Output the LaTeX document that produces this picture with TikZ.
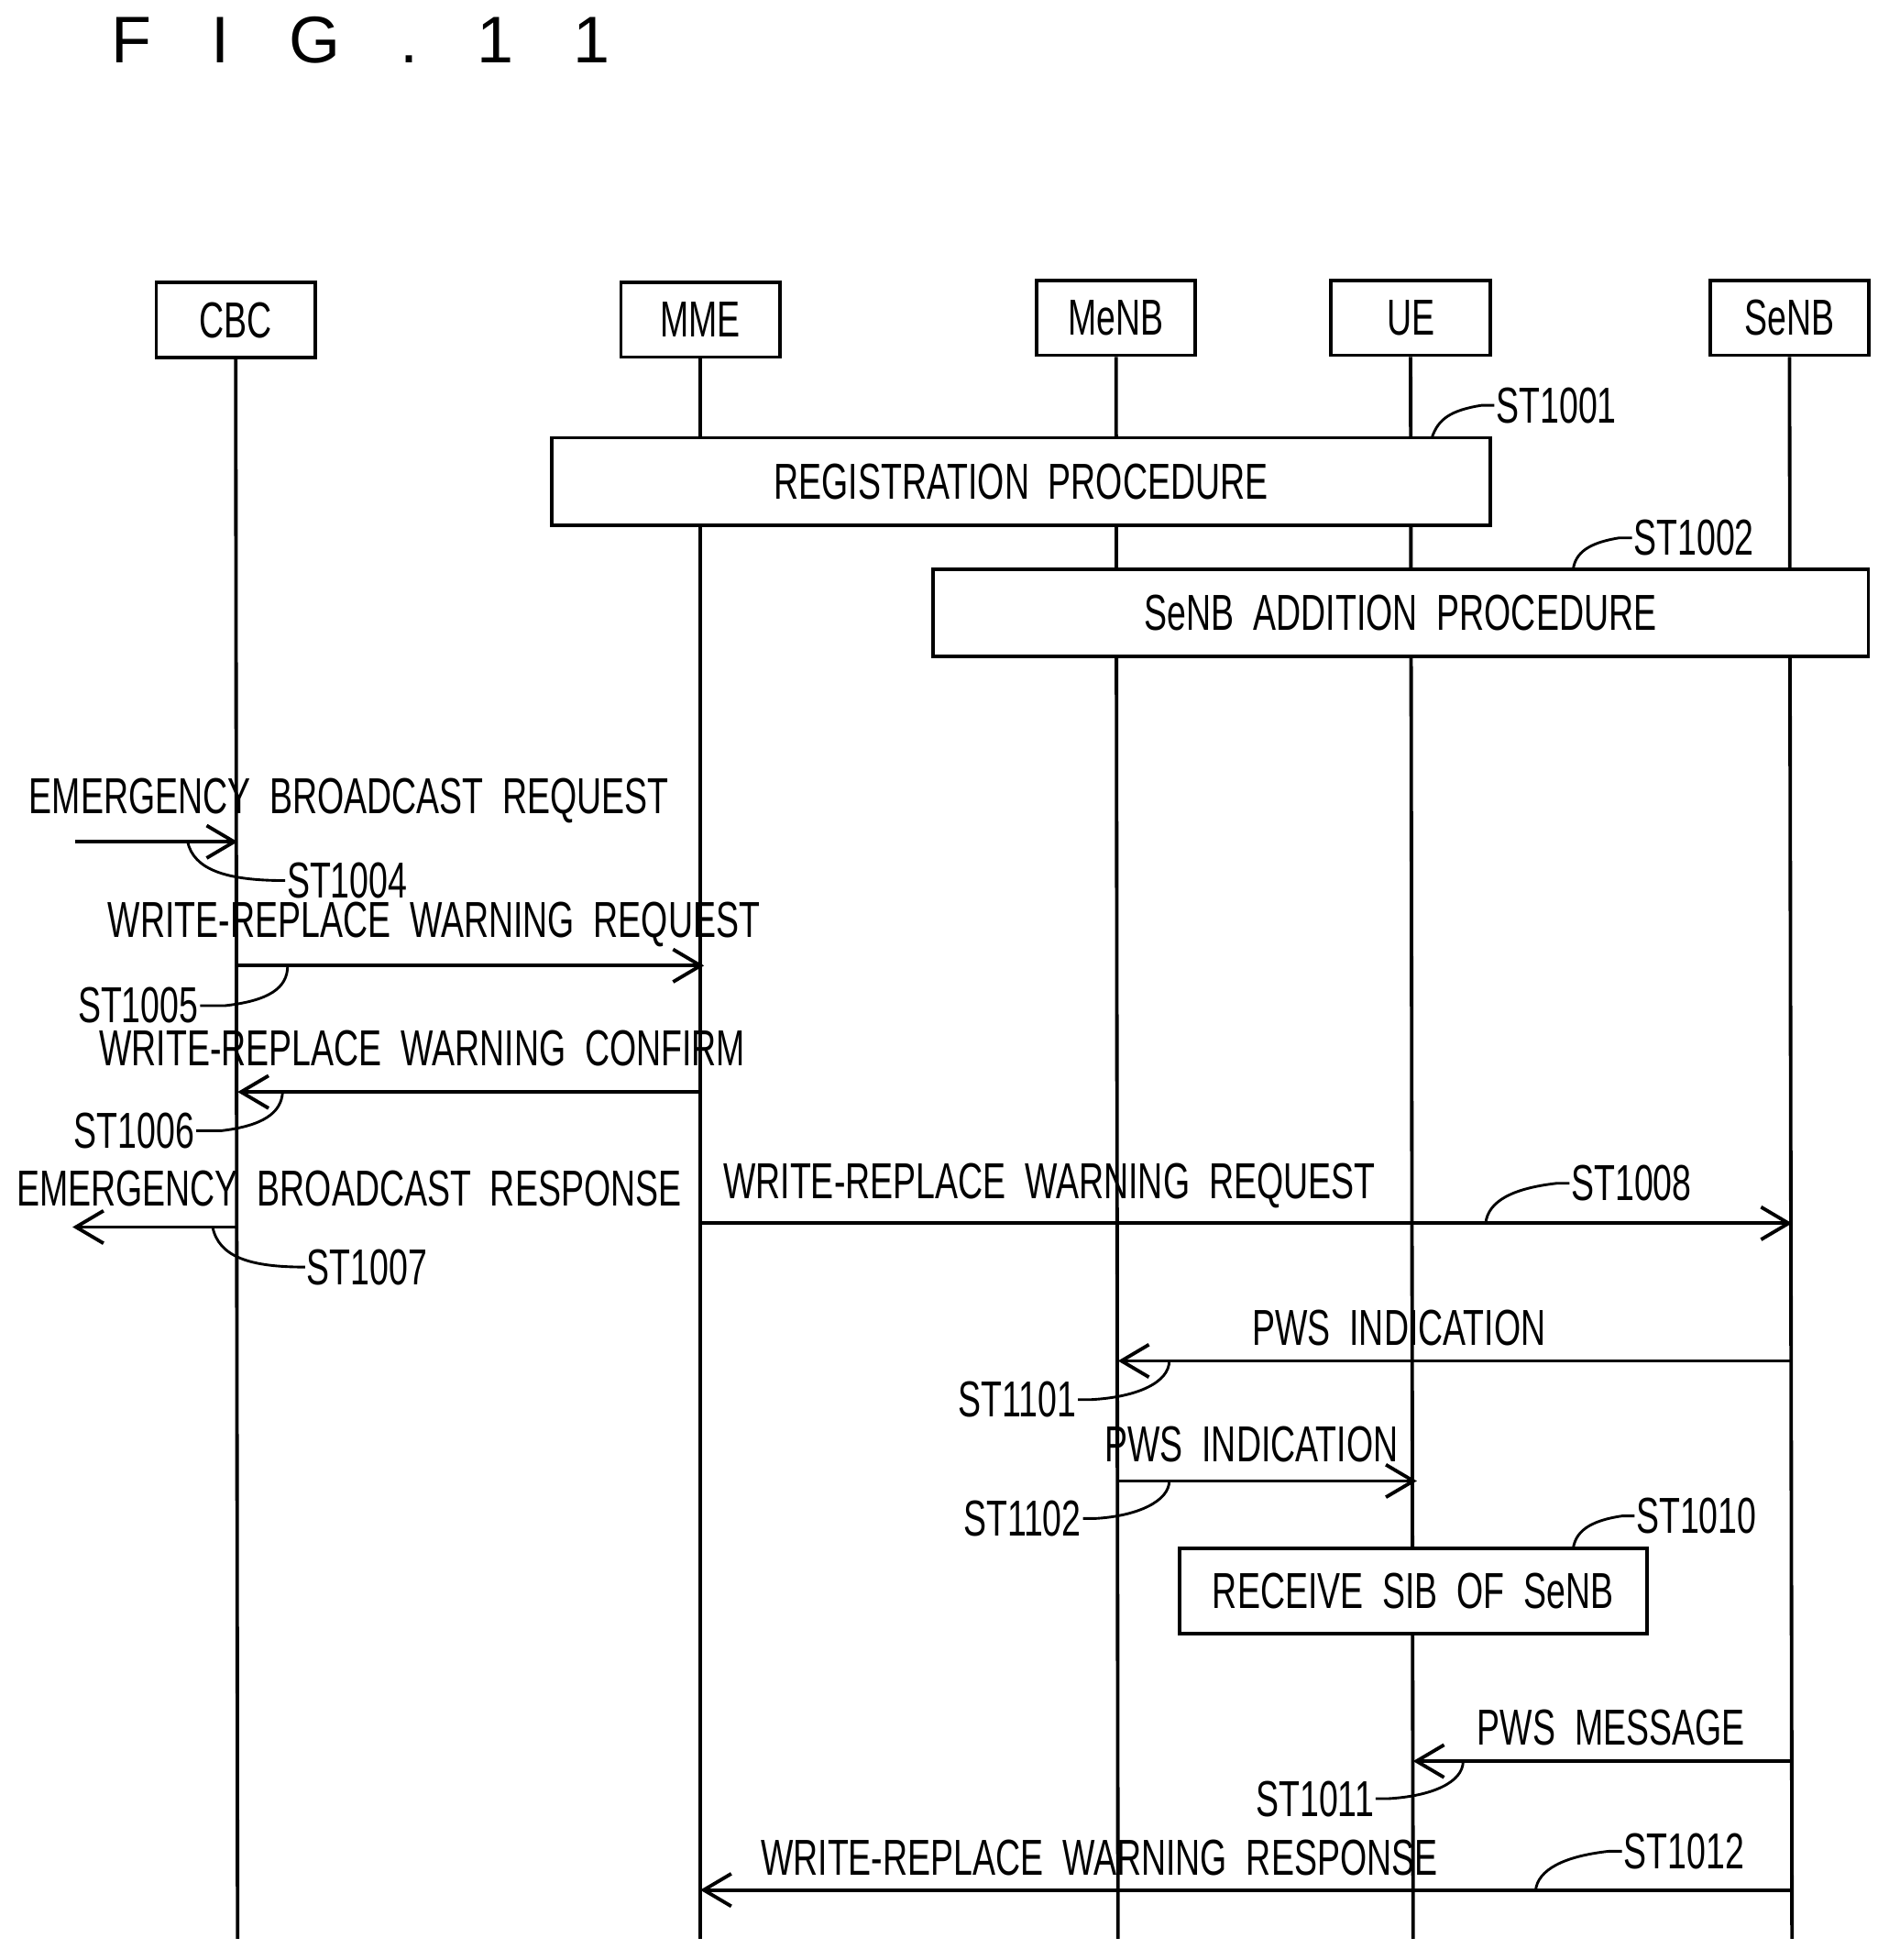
\documentclass[tikz,border=0pt]{standalone}
\usepackage{fontspec}
\setmainfont{Liberation Sans}
\usetikzlibrary{arrows.meta}
\newcommand\T[1]{\scalebox{0.68}[1]{#1}}
\begin{document}
\begin{tikzpicture}[
  line width=0.8pt,
  lbl/.style={inner sep=0pt, font=\fontsize{11.5}{13}\selectfont},
  hdr/.style={draw, minimum width=1.27cm, minimum height=0.6cm, inner sep=0pt, font=\fontsize{11.5}{13}\selectfont},
  msg/.style={-{Straight Barb[length=2.2mm,width=2.6mm]}},
  lead/.style={line width=0.6pt}
]
\useasboundingbox (0,0) rectangle (15.1,-15.67);
\node[lbl,anchor=west,font=\fontsize{15}{17}\selectfont] (title) at (0.88,-0.32) {F\hspace{0.9em}I\hspace{0.9em}G\hspace{0.9em}.\hspace{0.9em}1\hspace{0.9em}1};
% headers
\node[hdr] (cbc) at (1.885,-2.56) {\T{CBC}};
\node[hdr] (mme) at (5.60,-2.555) {\T{MME}};
\node[hdr] (menb) at (8.925,-2.54) {\T{MeNB}};
\node[hdr] (ue) at (11.28,-2.54) {\T{UE}};
\node[hdr] (senb) at (14.31,-2.54) {\T{SeNB}};
\coordinate (cbcE) at (1.90,-15.5);
\coordinate (mmeE) at (5.60,-15.5);
\coordinate (menbE) at (8.94,-15.5);
\coordinate (ueE) at (11.30,-15.5);
\coordinate (senbE) at (14.33,-15.5);
\draw (cbc.south) -- (cbcE);
\draw (mme.south) -- (mmeE);
\draw (menb.south) -- (menbE);
\draw (ue.south) -- (ueE);
\draw (senb.south) -- (senbE);
% boxes
\node[draw,fill=white,minimum width=7.51cm,minimum height=0.70cm,inner sep=0pt,lbl] (reg) at (8.165,-3.85) {\T{REGISTRATION\ \ PROCEDURE}};
\node[draw,fill=white,minimum width=7.48cm,minimum height=0.70cm,inner sep=0pt,lbl] (add) at (11.20,-4.90) {\T{SeNB\ \ ADDITION\ \ PROCEDURE}};
\node[draw,fill=white,minimum width=3.74cm,minimum height=0.68cm,inner sep=0pt,lbl] (sib) at (11.30,-12.72) {\T{RECEIVE\ \ SIB\ \ OF\ \ SeNB}};
\node[lbl,anchor=west] (s1001) at (11.95,-3.24) {\T{ST1001}};
\draw[lead] (s1001.west) -- ++(-0.1,0) .. controls (11.6,-3.28) and (11.5,-3.35) .. (11.45,-3.50);
\node[lbl,anchor=west] (s1002) at (13.05,-4.30) {\T{ST1002}};
\draw[lead] (s1002.west) -- ++(-0.1,0) .. controls (12.7,-4.34) and (12.6,-4.42) .. (12.58,-4.55);
% emergency request
\coordinate (erS) at (0.60,-6.73);
\draw[msg] (erS) -- (1.90,-6.73) coordinate (erE);
\node[lbl,anchor=west] (t1) at (0.22,-6.40) {\T{EMERGENCY\ \ BROADCAST\ \ REQUEST}};
\node[lbl,anchor=west] (s1004) at (2.28,-7.04) {\T{ST1004}};
\draw[lead] (1.50,-6.73) .. controls (1.55,-6.95) and (1.8,-7.04) .. (s1004.west);
% WRQ
\draw[msg] (1.90,-7.72) -- (5.63,-7.72);
\node[lbl,anchor=west] (t2) at (0.85,-7.39) {\T{WRITE-REPLACE\ \ WARNING\ \ REQUEST}};
\node[lbl,anchor=east] (s1005) at (1.60,-8.04) {\T{ST1005}};
\draw[lead] (s1005.east) -- ++(0.2,0) .. controls (2.15,-8.0) and (2.3,-7.9) .. (2.30,-7.72);
% confirm
\draw[msg] (5.60,-8.73) -- (1.90,-8.73);
\node[lbl,anchor=west] (t3) at (0.78,-8.38) {\T{WRITE-REPLACE\ \ WARNING\ \ CONFIRM}};
\node[lbl,anchor=east] (s1006) at (1.57,-9.04) {\T{ST1006}};
\draw[lead] (s1006.east) -- ++(0.2,0) .. controls (2.1,-9.0) and (2.25,-8.9) .. (2.26,-8.73);
% response
\draw[msg] (1.90,-9.81) -- (0.58,-9.81) coordinate (rsE);
\node[lbl,anchor=west] (t4) at (0.12,-9.50) {\T{EMERGENCY\ \ BROADCAST\ \ RESPONSE}};
\node[lbl,anchor=west] (s1007) at (2.44,-10.13) {\T{ST1007}};
\draw[lead] (1.70,-9.81) .. controls (1.75,-10.05) and (2.0,-10.13) .. (s1007.west);
% WRQ to SeNB
\draw[msg] (5.60,-9.78) -- (14.33,-9.78);
\node[lbl,anchor=west] (t5) at (5.77,-9.48) {\T{WRITE-REPLACE\ \ WARNING\ \ REQUEST}};
\node[lbl,anchor=west] (s1008) at (12.55,-9.46) {\T{ST1008}};
\draw[lead] (s1008.west) -- ++(-0.1,0) .. controls (12.1,-9.5) and (11.9,-9.6) .. (11.88,-9.78);
% PWS indication
\draw[msg] (14.33,-10.88) -- (8.94,-10.88);
\node[lbl,anchor=west] (t6) at (10.00,-10.62) {\T{PWS\ \ INDICATION}};
\node[lbl,anchor=east] (s1101) at (8.62,-11.19) {\T{ST1101}};
\draw[lead] (s1101.east) -- ++(0.1,0) .. controls (9.1,-11.17) and (9.35,-11.05) .. (9.35,-10.88);
\draw[msg] (8.94,-11.84) -- (11.33,-11.84);
\node[lbl,anchor=west] (t7) at (8.82,-11.55) {\T{PWS\ \ INDICATION}};
\node[lbl,anchor=east] (s1102) at (8.66,-12.14) {\T{ST1102}};
\draw[lead] (s1102.east) -- ++(0.1,0) .. controls (9.1,-12.12) and (9.35,-12.0) .. (9.35,-11.84);
\node[lbl,anchor=west] (s1010) at (13.07,-12.12) {\T{ST1010}};
\draw[lead] (s1010.west) -- ++(-0.1,0) .. controls (12.7,-12.16) and (12.6,-12.25) .. (12.58,-12.38);
% PWS message
\draw[msg] (14.33,-14.08) -- (11.30,-14.08);
\node[lbl,anchor=west] (t8) at (11.80,-13.81) {\T{PWS\ \ MESSAGE}};
\node[lbl,anchor=east] (s1011) at (11.00,-14.38) {\T{ST1011}};
\draw[lead] (s1011.east) -- ++(0.1,0) .. controls (11.45,-14.36) and (11.7,-14.25) .. (11.70,-14.08);
% WR response
\draw[msg] (14.33,-15.11) -- (5.60,-15.11);
\node[lbl,anchor=west] (t9) at (6.07,-14.85) {\T{WRITE-REPLACE\ \ WARNING\ \ RESPONSE}};
\node[lbl,anchor=west] (s1012) at (12.97,-14.80) {\T{ST1012}};
\draw[lead] (s1012.west) -- ++(-0.1,0) .. controls (12.5,-14.84) and (12.3,-14.95) .. (12.28,-15.11);
\end{tikzpicture}
\end{document}
